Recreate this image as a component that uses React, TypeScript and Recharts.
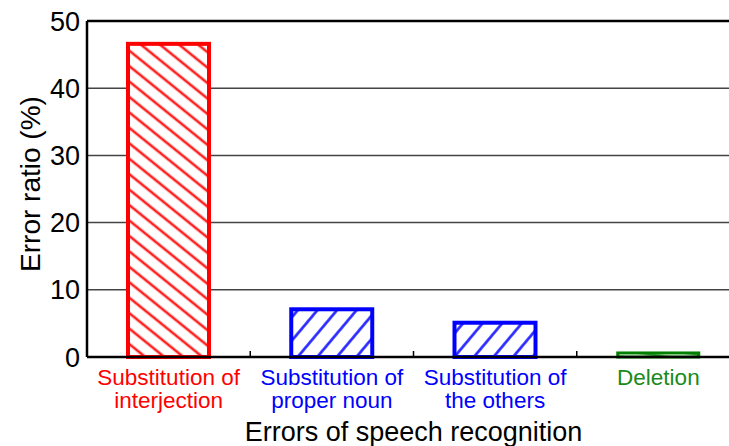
import React from 'react';
import { BarChart, Bar, XAxis, YAxis, CartesianGrid, ReferenceLine, Label } from 'recharts';

const categories = ['Substitution of\ninterjection', 'Substitution of\nproper noun', 'Substitution of\nthe others', 'Deletion'];
const errorRatio = [46.6, 7.1, 5.1, 0.6];
const colors = ['#ff0000', '#0000ff', '#0000ff', '#008000'];
const outlineWidths = [4, 4, 4, 3];
const labelColors = ['#ff0000', '#0000ff', '#0000ff', '#1a8a1a'];
const hatches = ['url(#hatchRed)', 'url(#hatchBlue)', 'url(#hatchBlue)', 'url(#hatchGreen)'];
const yTicks = [0, 10, 20, 30, 40, 50];

const data = categories.map((name, i) => ({ name, value: errorRatio[i] }));

const FONT = '"Liberation Sans", Arial, sans-serif';

const CategoryTick = ({ x, y, payload, index }: any) => {
  const idx = categories.indexOf(payload.value);
  const lines = String(payload.value).split('\n');
  const half = payload.offset || 0;
  return (
    <g>
      {index < categories.length - 1 && half > 0 && (
        <line x1={x + half} x2={x + half} y1={y} y2={y - 6} stroke="#000" strokeWidth={1.5} />
      )}
      <text x={x} y={y} textAnchor="middle" fontFamily={FONT} fontSize={22.5} fill={labelColors[idx]}>
        {lines.map((line, i) => (
          <tspan key={i} x={x} dy={i === 0 ? 28 : 23}>{line}</tspan>
        ))}
      </text>
    </g>
  );
};

const YTitle = ({ viewBox }: any) => {
  const cx = viewBox.x + 30;
  const cy = viewBox.y + viewBox.height / 2 - 5;
  return (
    <text x={cx} y={cy} transform={`rotate(-90 ${cx} ${cy})`} textAnchor="middle" dominantBaseline="central"
      fontFamily={FONT} fontSize={28} fill="#000">
      Error ratio (%)
    </text>
  );
};

const HatchBar = (props: any) => {
  const { x, y, width, height, index } = props;
  return (
    <rect x={x} y={y} width={width} height={height} fill={hatches[index]} stroke={colors[index]} strokeWidth={outlineWidths[index]} />
  );
};

const Hatch = ({ id, color, size, angle, width }: any) => (
  <pattern id={id} patternUnits="userSpaceOnUse" width={size} height={size} patternTransform={`rotate(${angle})`}>
    <rect width={size} height={size} fill="#fff" />
    <line x1={size / 2} y1={0} x2={size / 2} y2={size} stroke={color} strokeWidth={width} />
  </pattern>
);

export default function App() {
  return (
    <div style={{ position: 'absolute', left: 0, top: 0, width: 729, height: 446, overflow: 'hidden', background: '#fff' }}>
      <BarChart width={742} height={446} data={data} margin={{ top: 21, right: 2, bottom: 0, left: 0 }} barCategoryGap={41}>
        <defs>
          <Hatch id="hatchRed" color="#ff2020" size={12} angle={-51} width={2.6} />
          <Hatch id="hatchBlue" color="#2020ff" size={15} angle={40} width={2.6} />
          <Hatch id="hatchGreen" color="#3a9a3a" size={8} angle={-80} width={3} />
        </defs>
        <CartesianGrid vertical={false} stroke="#444" strokeWidth={1.5} />
        <XAxis
          dataKey="name"
          height={89}
          interval={0}
          tickLine={false}
          tickSize={0}
          tickMargin={0}
          axisLine={{ stroke: '#000', strokeWidth: 2.5 }}
          tick={<CategoryTick />}
        >
          <Label value="Errors of speech recognition" position="insideBottom" offset={5} fontFamily={FONT} fontSize={27} fill="#000" />
        </XAxis>
        <YAxis
          width={87}
          domain={[0, 50]}
          ticks={yTicks}
          tickLine={false}
          tickMargin={1}
          axisLine={{ stroke: '#000', strokeWidth: 2.5 }}
          tick={{ fontFamily: FONT, fontSize: 27, fill: '#000' }}
        >
          <Label content={<YTitle />} />
        </YAxis>
        <ReferenceLine y={50} stroke="#000" strokeWidth={2.5} />
        <Bar dataKey="value" isAnimationActive={false} shape={<HatchBar />} />
      </BarChart>
    </div>
  );
}
